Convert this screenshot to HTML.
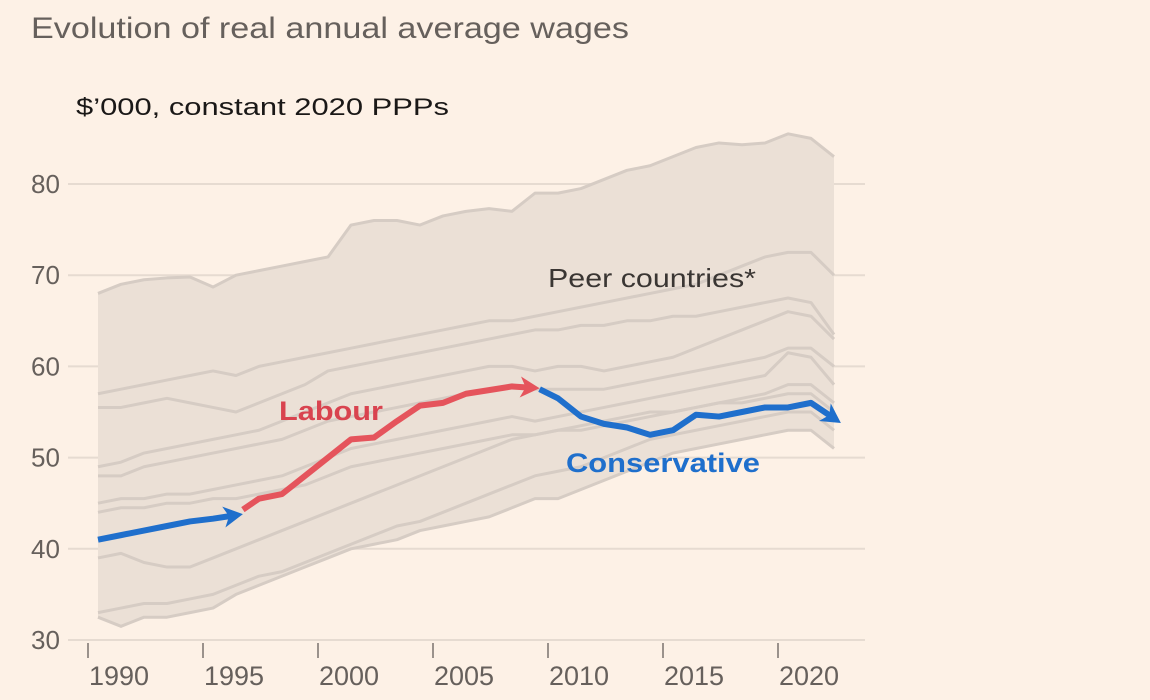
<!DOCTYPE html>
<html><head><meta charset="utf-8"><style>
html,body{margin:0;padding:0;background:#fdf1e6;}
svg{display:block;font-family:"Liberation Sans",sans-serif;}
</style></head><body>
<svg id="chart" width="1150" height="700" viewBox="0 0 1150 700">
<rect x="0" y="0" width="1150" height="700" fill="#fdf1e6"/>
<text x="31" y="38" font-size="30" fill="#66605c" textLength="598" lengthAdjust="spacingAndGlyphs">Evolution of real annual average wages</text>
<text x="76" y="115" font-size="24" fill="#1a1817" textLength="373" lengthAdjust="spacingAndGlyphs">$’000, constant 2020 PPPs</text>
<g id="grid"></g><g id="band"></g><g id="peers"></g><g id="uk"></g><g id="axes"></g>
<text x="548" y="287" font-size="26" fill="#3a3633" textLength="208" lengthAdjust="spacingAndGlyphs">Peer countries*</text>
<text x="279" y="420" font-size="27" font-weight="bold" fill="#d9434f" textLength="104" lengthAdjust="spacingAndGlyphs">Labour</text>
<text x="566" y="472" font-size="27" font-weight="bold" fill="#1f6fcc" textLength="194" lengthAdjust="spacingAndGlyphs">Conservative</text>
</svg>
<script>
const years=[];for(let y=1990;y<=2022;y++)years.push(y);
const yTicks=[30,40,50,60,70,80];
const xTicks=[1990,1995,2000,2005,2010,2015,2020];
const peerMax=[68,69,69.5,69.7,69.8,68.7,70,70.5,71,71.5,72,75.5,76,76,75.5,76.5,77,77.3,77,79,79,79.5,80.5,81.5,82,83,84,84.5,84.3,84.5,85.5,85,83];
const peerMin=[32.5,31.5,32.5,32.5,33,33.5,35,36,37,38,39,40,40.5,41,42,42.5,43,43.5,44.5,45.5,45.5,46.5,47.5,48.5,49.5,50.5,51,51.5,52,52.5,53,53,51];
const peerA=[57,57.5,58,58.5,59,59.5,59,60,60.5,61,61.5,62,62.5,63,63.5,64,64.5,65,65,65.5,66,66.5,67,67.5,68,68.5,69,70,71,72,72.5,72.5,70];
const peerB=[55.5,55.5,56,56.5,56,55.5,55,56,57,58,59.5,60,60.5,61,61.5,62,62.5,63,63.5,64,64,64.5,64.5,65,65,65.5,65.5,66,66.5,67,67.5,67,63.5];
const peerC=[49,49.5,50.5,51,51.5,52,52.5,53,54,55,56,57,57.5,58,58.5,59,59.5,60,60,59.5,60,60,59.5,60,60.5,61,62,63,64,65,66,65.5,63];
const peerD=[48,48,49,49.5,50,50.5,51,51.5,52,53,54,54.5,55,55.5,56,56.5,57,57.5,58,57.5,57.5,57.5,57.5,58,58.5,59,59.5,60,60.5,61,62,62,60];
const peerE=[45,45.5,45.5,46,46,46.5,47,47.5,48,49,50,51,51.5,52,52.5,53,53.5,54,54.5,54,54.5,55,55.5,56,56.5,57,57.5,58,58.5,59,61.5,61,58];
const peerF=[44,44.5,44.5,45,45,45.5,45.5,46,46.5,47,48,49,49.5,50,50.5,51,51.5,52,52.5,52.5,53,53,53.5,54,54.5,55,55.5,56,56.5,57,58,58,56];
const peerG=[39,39.5,38.5,38,38,39,40,41,42,43,44,45,46,47,48,49,50,51,52,52.5,53,53.5,54,54.5,55,55,55.5,56,56,56.5,57,57,55];
const peerH=[33,33.5,34,34,34.5,35,36,37,37.5,38.5,39.5,40.5,41.5,42.5,43,44,45,46,47,48,48.5,49,50,51,52,52.5,53,53.5,54,54.5,55,55,53];
const ukYears1=[1990,1991,1992,1993,1994,1995,1996.3];
const ukVals1=[41,41.5,42,42.5,43,43.3,43.8];
const ukYears2=[1996.3,1997,1998,1999,2000,2001,2002,2003,2004,2005,2006,2007,2008,2009.2];
const ukVals2=[44.3,45.5,46,48,50,52,52.2,54,55.7,56,57,57.4,57.8,57.6];
const ukYears3=[2009.2,2010,2011,2012,2013,2014,2015,2016,2017,2018,2019,2020,2021,2022.3];
const ukVals3=[57.5,56.5,54.5,53.7,53.3,52.5,53,54.7,54.5,55,55.5,55.5,56,53.8];

const X=y=>98+(y-1990)*23;
const Y=v=>640-(v-30)*9.12;
const NS="http://www.w3.org/2000/svg";
function mk(tag,parent){const e=document.createElementNS(NS,tag);document.getElementById(parent).appendChild(e);return e;}
yTicks.forEach(t=>{
 const l=mk('line','grid');l.setAttribute('x1',68);l.setAttribute('x2',865);l.setAttribute('y1',Y(t));l.setAttribute('y2',Y(t));l.setAttribute('stroke','#e6dbd1');l.setAttribute('stroke-width',2);
 
 
 const tx=mk('text','axes');tx.setAttribute('x',31);tx.setAttribute('y',Y(t)+9);tx.setAttribute('font-size',26);tx.setAttribute('fill','#66605c');tx.textContent=t;
 
 
});
xTicks.forEach(t=>{
 const l=mk('line','axes');l.setAttribute('x1',X(t)-10);l.setAttribute('x2',X(t)-10);l.setAttribute('y1',643);l.setAttribute('y2',658);l.setAttribute('stroke','#7a736e');l.setAttribute('stroke-width',1.5);
 
 
 const tx=mk('text','axes');tx.setAttribute('x',X(t)-9);tx.setAttribute('y',685);tx.setAttribute('font-size',27);tx.setAttribute('fill','#66605c');tx.textContent=t;
 
 
});
let d='M'+years.map((y,i)=>X(y)+','+Y(peerMax[i])).join('L');
for(let i=years.length-1;i>=0;i--)d+='L'+X(years[i])+','+Y(peerMin[i]);
const band=mk('path','band');band.setAttribute('d',d+'Z');band.setAttribute('fill','#ebe0d6');


[peerMax,peerA,peerB,peerC,peerD,peerE,peerF,peerG,peerH,peerMin].forEach((s,k)=>{
 const p=mk('path','peers');p.setAttribute('d','M'+years.map((y,i)=>X(y)+','+Y(s[i])).join('L'));
 p.setAttribute('fill','none');p.setAttribute('stroke','#d6ccc4');p.setAttribute('stroke-width',3);p.setAttribute('stroke-linejoin','round');
 
 
});
function seg(ys,vs,color,name){
 const n=ys.length,x1=X(ys[n-1]),y1=Y(vs[n-1]),x0=X(ys[n-2]),y0=Y(vs[n-2]);
 const a=Math.atan2(y1-y0,x1-x0),L=22,w=0.5;
 const p=mk('path','uk');
 const pts=ys.map((y,i)=>[X(y),Y(vs[i])]);
 pts[n-1]=[x1-10*Math.cos(a),y1-10*Math.sin(a)];
 p.setAttribute('d','M'+pts.map(q=>q[0]+','+q[1]).join('L'));
 p.setAttribute('fill','none');p.setAttribute('stroke',color);p.setAttribute('stroke-width',6);p.setAttribute('stroke-linejoin','round');
 
 
 const bx=x1-14*Math.cos(a),by=y1-14*Math.sin(a);
 const h=mk('path','uk');
 h.setAttribute('d',`M${x1-L*Math.cos(a-w)},${y1-L*Math.sin(a-w)}L${x1},${y1}L${x1-L*Math.cos(a+w)},${y1-L*Math.sin(a+w)}L${bx},${by}Z`);
 h.setAttribute('fill',color);h.setAttribute('stroke','none');
 
 
}
seg(ukYears1,ukVals1,'#1f6fcc','uk-line-conservative-1990s');
seg(ukYears3,ukVals3,'#1f6fcc','uk-line-conservative-2010s');
seg(ukYears2,ukVals2,'#e5545c','uk-line-labour');
</script>
</body></html>
